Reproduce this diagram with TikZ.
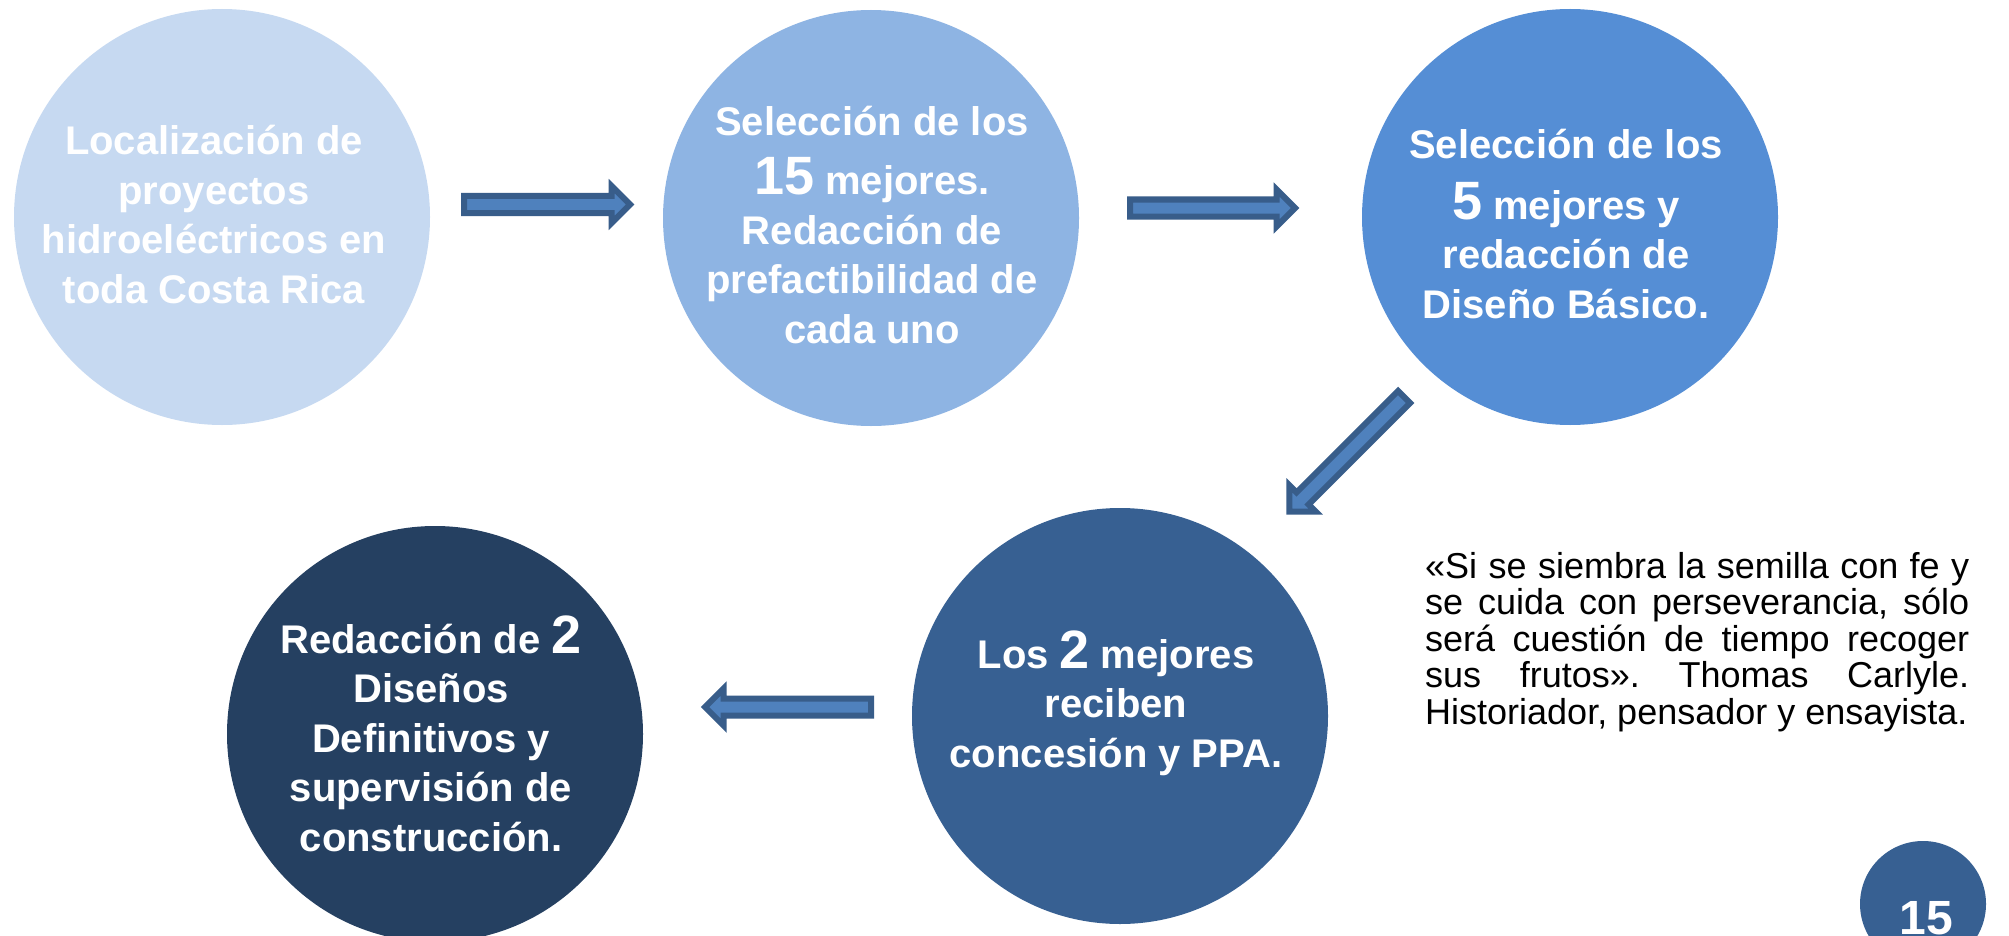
\documentclass[tikz,border=0pt]{standalone}
\usepackage{fontspec}
\setmainfont{Liberation Sans}
\usetikzlibrary{shapes.arrows}
\definecolor{cA}{HTML}{C6D9F1}
\definecolor{cB}{HTML}{8EB4E3}
\definecolor{cC}{HTML}{558ED5}
\definecolor{cD}{HTML}{376092}
\definecolor{cE}{HTML}{254061}
\definecolor{arrowedge}{HTML}{385D8A}
\definecolor{arrowfill}{HTML}{4F81BD}
\newcommand\BigNum[1]{{\fontsize{54}{49.5}\selectfont #1}}
\frenchspacing
\begin{document}
\begin{tikzpicture}[x=1pt,y=-1pt,
  bubble/.style={circle, inner sep=0pt, outer sep=0pt, minimum size=416pt},
  ctext/.style={align=center, text=white, font=\bfseries\fontsize{40}{49.5}\selectfont, inner sep=0pt, anchor=base},
  blockarrow/.style={single arrow, draw=arrowedge, fill=arrowfill, line width=6pt,
    inner sep=0pt, outer sep=0pt, text height=5.5pt, text depth=5.5pt,
    minimum width=1pt, single arrow head extend=10pt, anchor=tail},
  quote/.style={text width=544pt, align=justify, inner sep=0pt, anchor=base west,
    font=\fontsize{36}{36.5}\selectfont\frenchspacing, text=black}
]
\useasboundingbox[fill=white] (0,0) rectangle (2009,936);

\node[bubble, fill=cA] (n1) at (222,217) {};
\node[bubble, fill=cB] (n2) at (871,218) {};
\node[bubble, fill=cC] (n3) at (1570,217) {};
\node[bubble, fill=cD] (n4) at (1120,716) {};
\node[bubble, fill=cE] (n5) at (435,734) {};
\node[circle, inner sep=0pt, minimum size=126pt, fill=cD] (n6) at (1923,904) {};

% anchor=base is the baseline of the last line
\node[ctext] (t1) at (214,303) {Localización de\\proyectos\\hidroeléctricos en\\toda Costa Rica};
\node[ctext] (t2) at (872,343) {Selección de los\\[10pt]\BigNum{15} mejores.\\Redacción de\\prefactibilidad de\\cada uno};
\node[ctext] (t3) at (1566,318) {Selección de los\\[11pt]\BigNum{5} mejores y\\redacción de\\Diseño Básico.};
\node[ctext] (t4) at (1116,767) {Los \BigNum{2} mejores\\reciben\\concesión y PPA.};
\node[ctext] (t5) at (431,851) {Redacción de \BigNum{2}\\Diseños\\Definitivos y\\supervisión de\\construcción.};
\node[font=\bfseries\fontsize{48}{48}\selectfont, text=white, inner sep=0pt, anchor=base] (pg) at (1926,934) {15};

\node[blockarrow, minimum height=166pt] (a1) at (464,204.5) {};
\node[blockarrow, minimum height=165pt] (a2) at (1130,208) {};
\node[blockarrow, minimum height=162pt, rotate=225] (a3) at (1404,397) {};
\node[blockarrow, minimum height=166pt, rotate=180] (a4) at (871,707) {};

% with a text width, anchor=base is the baseline of the first line
\node[quote] (q) at (1425,578) {«Si se siembra la semilla con fe y\linebreak se cuida con perseverancia, sólo\linebreak será cuestión de tiempo recoger\linebreak sus frutos». Thomas Carlyle.\linebreak Historiador, pensador y ensayista.};
\end{tikzpicture}
\end{document}
